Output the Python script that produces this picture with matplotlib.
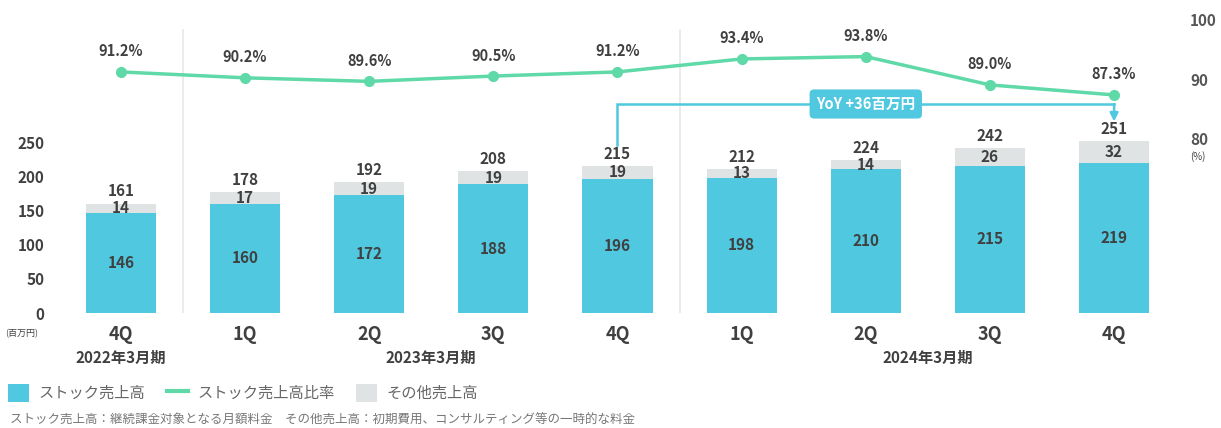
import matplotlib
matplotlib.use("Agg")
import matplotlib.pyplot as plt
from matplotlib.patches import Patch
from matplotlib.lines import Line2D
import numpy as np

plt.rcParams['font.family'] = ['Noto Sans CJK JP', 'DejaVu Sans']

# データ
quarters = ['4Q', '1Q', '2Q', '3Q', '4Q', '1Q', '2Q', '3Q', '4Q']
periods = ['2022年3月期', '2023年3月期', '2024年3月期']
period_pos = [0, 2.5, 6.5]
stock = [146, 160, 172, 188, 196, 198, 210, 215, 219]
other = [14, 17, 19, 19, 19, 13, 14, 26, 32]
total = [161, 178, 192, 208, 215, 212, 224, 242, 251]
ratio = [91.2, 90.2, 89.6, 90.5, 91.2, 93.4, 93.8, 89.0, 87.3]
yoy_text = 'YoY +36百万円'

BLUE = '#4FC8E0'
GRAY = '#DFE3E3'
GREEN = '#5FD9A8'
TXT = '#404040'

fig = plt.figure(figsize=(12.21, 4.28), dpi=100)
ax = fig.add_axes([60 / 1221, 115 / 428, 1105 / 1221, 293 / 428])
x = np.arange(len(quarters))

ax.bar(x, stock, width=0.565, color=BLUE, zorder=2)
ax.bar(x, other, bottom=stock, width=0.565, color=GRAY, zorder=2)

for i in range(len(x)):
    ax.text(x[i], stock[i] / 2, str(stock[i]), ha='center', va='center',
            fontsize=11, color=TXT, fontweight='bold')
    ax.text(x[i], stock[i] + other[i] / 2, str(other[i]), ha='center', va='center',
            fontsize=11, color=TXT, fontweight='bold')
    ax.annotate(str(total[i]), (x[i], stock[i] + other[i]), xytext=(0, 3),
                textcoords='offset points', ha='center', va='bottom',
                fontsize=11, color=TXT, fontweight='bold')

ax.set_xlim(-0.49, 8.41)
ax.set_ylim(0, 428.4)
ax.set_yticks([0, 50, 100, 150, 200, 250])
ax.tick_params(axis='y', length=0, pad=11, labelsize=11, labelcolor=TXT)
for t in ax.get_yticklabels():
    t.set_fontweight('bold')
ax.set_xticks(x)
ax.set_xticklabels(quarters, fontsize=13, color=TXT, fontweight='bold')
ax.tick_params(axis='x', length=0, pad=9)
for s in ax.spines.values():
    s.set_visible(False)

# 区切り線
for sx in [0.5, 4.5]:
    ax.plot([sx, sx], [0, 0.966], transform=ax.get_xaxis_transform(),
            color='#E6E8E8', lw=1.2, zorder=1)

# 期ラベル
for p, lbl in zip(period_pos, periods):
    ax.text(p, -0.154, lbl, transform=ax.get_xaxis_transform(), ha='center',
            va='center', fontsize=11, color=TXT, fontweight='bold')
fig.text(22 / 1221, 1 - 334 / 428, '(百万円)', ha='center', va='center',
         fontsize=6.5, color=TXT)

# YoY コールアウト
y_top = 305.6
ax.plot([4, 4, 8, 8], [total[4] + 30, y_top, y_top, y_top], color=BLUE, lw=1.8,
        solid_joinstyle='miter', zorder=3)
ax.annotate('', xy=(8, total[8] + 29), xytext=(8, y_top),
            arrowprops=dict(arrowstyle='-|>', color=BLUE, lw=1.8,
                            mutation_scale=12, shrinkA=0, shrinkB=0), zorder=3)
ax.text(6, y_top, yoy_text, ha='center', va='center', fontsize=10.5,
        color='white', fontweight='bold', zorder=4,
        bbox=dict(boxstyle='round,pad=0.45,rounding_size=0.3', fc=BLUE, ec='none'))

# 比率ライン
ax2 = ax.twinx()
ax2.set_position(ax.get_position())
ax2.plot(x, ratio, color=GREEN, lw=2.5, marker='o', markersize=7, zorder=3)
for i in range(len(x)):
    ax2.annotate(f'{ratio[i]:.1f}%', (x[i], ratio[i]), xytext=(0, 9),
                 textcoords='offset points', ha='center', va='bottom',
                 fontsize=10.5, color=TXT, fontweight='bold')
ax2.set_ylim(50.34, 100)
ax2.set_yticks([80, 90, 100])
ax2.tick_params(axis='y', length=0, pad=18, labelsize=11, labelcolor='#555555')
for t in ax2.get_yticklabels():
    t.set_fontweight('bold')
for s in ax2.spines.values():
    s.set_visible(False)
fig.text(1190 / 1221, 1 - 157 / 428, '(%)', ha='left', va='center',
         fontsize=7, color=TXT)

# 凡例
handles = [Patch(facecolor=BLUE, edgecolor='none'),
           Line2D([0], [0], color=GREEN, lw=3),
           Patch(facecolor=GRAY, edgecolor='none')]
labels = ['ストック売上高', 'ストック売上高比率', 'その他売上高']
fig.legend(handles, labels, loc='center left', bbox_to_anchor=(8 / 1221, 1 - 393 / 428),
           ncol=3, frameon=False, fontsize=11, labelcolor='#666666', borderpad=0,
           borderaxespad=0, handlelength=1.4, handleheight=1.4, columnspacing=1.4,
           handletextpad=0.6)

fig.text(10 / 1221, 1 - 420 / 428,
         'ストック売上高：継続課金対象となる月額料金　その他売上高：初期費用、コンサルティング等の一時的な料金',
         ha='left', va='center', fontsize=9, color='#777777')

fig.savefig('out.png', dpi=100)
